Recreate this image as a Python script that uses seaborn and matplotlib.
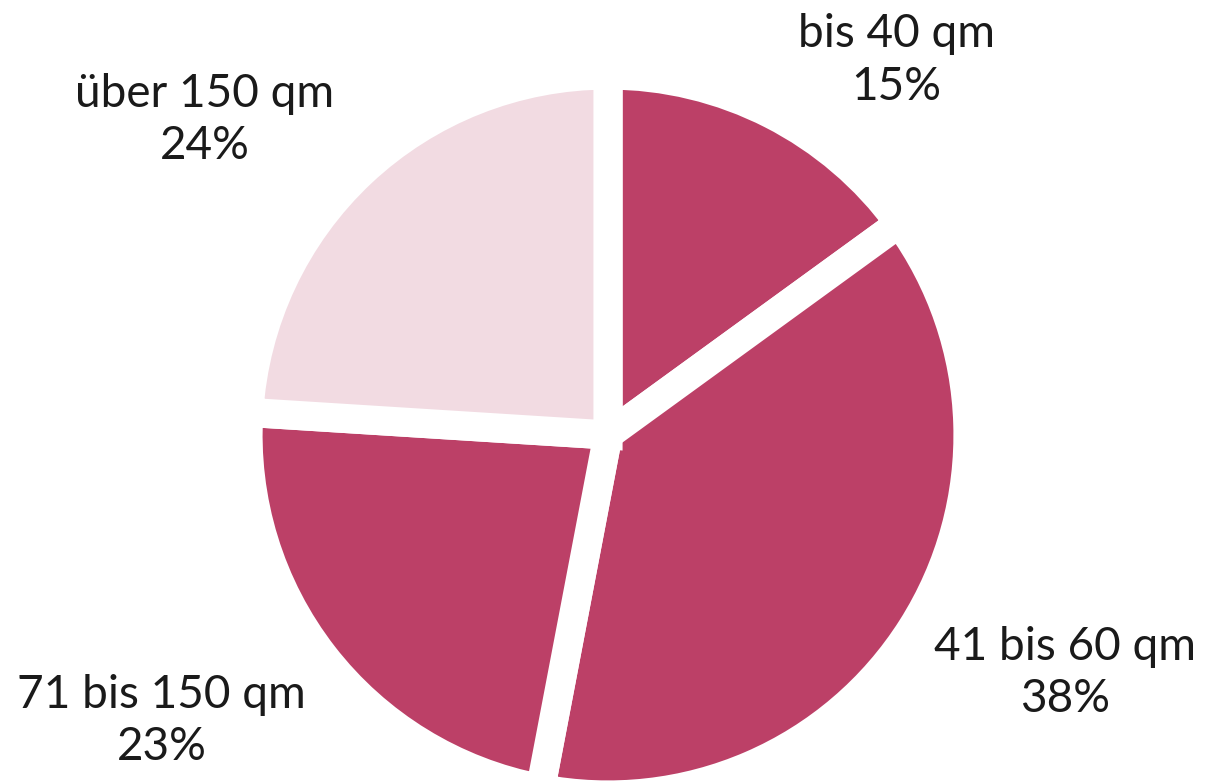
import matplotlib
matplotlib.use("Agg")
import matplotlib.pyplot as plt
import seaborn as sns

sns.set_theme(style="white")
plt.rcParams['font.family'] = ['Lato', 'DejaVu Sans']

# -------------------- DATA ---------------------------------
categories = ["bis 40 qm", "41 bis 60 qm", "71 bis 150 qm", "über 150 qm"]
shares = [15, 38, 23, 24]
colors = ["#BC4067", "#BC4067", "#BC4067", "#F2DBE2"]

# label anchor points (data coords, pie radius = 1)
label_pos = [(0.80, 1.04), (1.27, -0.66), (-1.24, -0.795), (-1.12, 0.875)]

# -------------------- PLOT ---------------------------------
fig = plt.figure(figsize=(12.09, 7.82), dpi=100)
ax = fig.add_axes([248 / 1209, (782 - 435 - 360) / 782, 720 / 1209, 720 / 782])

ax.pie(shares, colors=colors, startangle=90, counterclock=False, radius=1,
       wedgeprops=dict(edgecolor="white", linewidth=21))

for cat, val, (x, y) in zip(categories, shares, label_pos):
    ax.text(x, y, f"{cat}\n{val}%", ha="center", va="center",
            fontsize=33, color="#1a1a1a", linespacing=1.3)

ax.set_xlim(-1, 1)
ax.set_ylim(-1, 1)
ax.set_aspect("equal")
ax.axis("off")

fig.savefig("out.png", dpi=100)
